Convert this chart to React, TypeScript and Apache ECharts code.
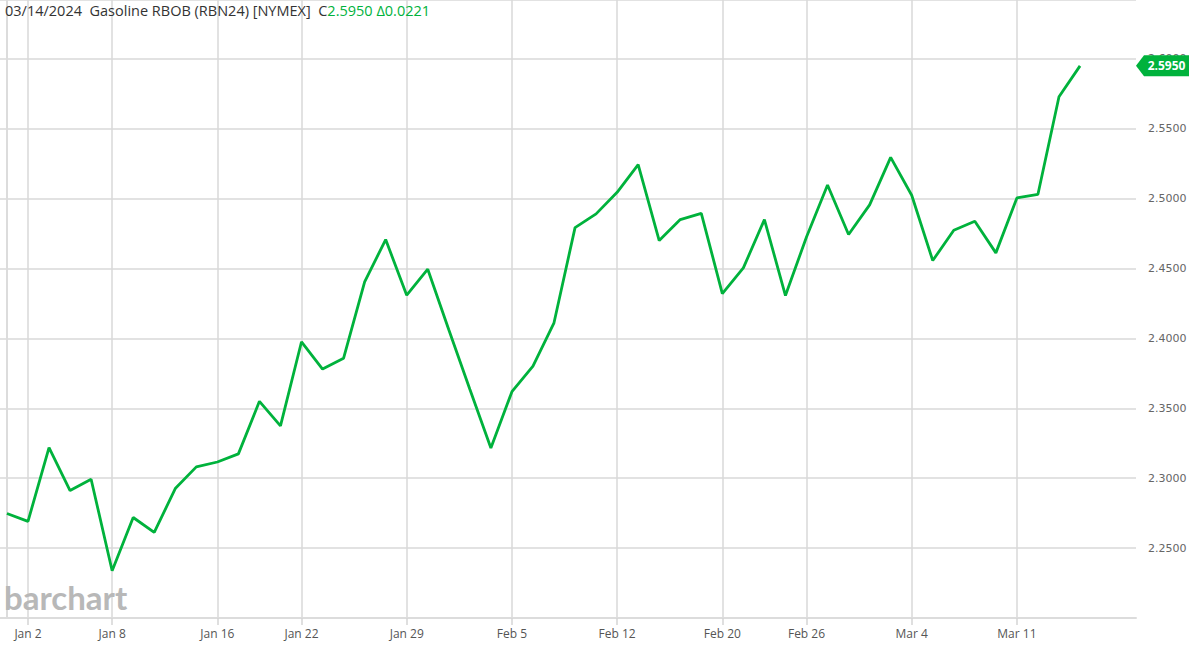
import { useEffect, useRef } from "react";
import * as echarts from "echarts";

const dates = [
  "Dec 29", "Jan 2", "Jan 3", "Jan 4", "Jan 5", "Jan 8", "Jan 9", "Jan 10", "Jan 11", "Jan 12",
  "Jan 16", "Jan 17", "Jan 18", "Jan 19", "Jan 22", "Jan 23", "Jan 24", "Jan 25", "Jan 26",
  "Jan 29", "Jan 30", "Jan 31", "Feb 1", "Feb 2", "Feb 5", "Feb 6", "Feb 7", "Feb 8", "Feb 9",
  "Feb 12", "Feb 13", "Feb 14", "Feb 15", "Feb 16", "Feb 20", "Feb 21", "Feb 22", "Feb 23",
  "Feb 26", "Feb 27", "Feb 28", "Feb 29", "Mar 1", "Mar 4", "Mar 5", "Mar 6", "Mar 7", "Mar 8",
  "Mar 11", "Mar 12", "Mar 13", "Mar 14",
];

const closes = [
  2.2748, 2.2691, 2.3219, 2.2912, 2.2993, 2.2338, 2.2719, 2.2612, 2.2926, 2.3081,
  2.3116, 2.3174, 2.355, 2.3374, 2.3976, 2.3781, 2.3859, 2.4405, 2.4707,
  2.4309, 2.4495, 2.4062, 2.3636, 2.3216, 2.3619, 2.3802, 2.4112, 2.4793, 2.4891,
  2.5045, 2.5243, 2.47, 2.485, 2.4895, 2.4321, 2.4505, 2.485, 2.4307,
  2.4726, 2.5098, 2.4743, 2.4955, 2.5295, 2.5024, 2.4557, 2.4774, 2.4838, 2.4612,
  2.5005, 2.5031, 2.5729, 2.595,
];

const tickLabels = [
  "Jan 2", "Jan 8", "Jan 16", "Jan 22", "Jan 29", "Feb 5",
  "Feb 12", "Feb 20", "Feb 26", "Mar 4", "Mar 11",
];

const titleDate = "03/14/2024";
const titleName = "Gasoline RBOB (RBN24) [NYMEX]";
const lastClose = 2.595;
const change = 0.0221;

const GREEN = "#00b23c";

export default function App() {
  const ref = useRef<HTMLDivElement>(null);

  useEffect(() => {
    document.body.style.margin = "0";
    const chart = echarts.init(ref.current!, null, { renderer: "svg" });
    const tickIdx = tickLabels.map((l) => dates.indexOf(l));
    const gridRight = 54;
    const width = 1190;

    chart.setOption({
      animation: false,
      grid: { left: 0, right: gridRight, top: 0, bottom: 27, containLabel: false },
      xAxis: {
        type: "value",
        min: -0.33,
        max: 53.66,
        axisLine: { show: true, onZero: false, lineStyle: { color: "#dcdcdc", width: 2 } },
        axisTick: {
          show: true,
          customValues: tickIdx,
          length: 7,
          lineStyle: { color: "#d4d4d4", width: 1.5 },
        },
        axisLabel: {
          customValues: tickIdx,
          formatter: (v: number) => dates[Math.round(v)] ?? "",
          color: "#555",
          fontSize: 12,
          fontFamily: "Open Sans",
          margin: 9,
        },
        splitLine: { show: true, lineStyle: { color: "#d9d9d9", width: 1.5 } },
      },
      yAxis: {
        type: "value",
        position: "right",
        min: 2.2,
        max: 2.6421,
        interval: 0.05,
        axisLine: { show: true, lineStyle: { color: "#dcdcdc", width: 2 } },
        axisTick: { show: false },
        axisLabel: {
          formatter: (v: number) => v.toFixed(4),
          color: "#666",
          fontSize: 11,
          fontFamily: "DejaVu Sans",
          margin: 12,
          showMinLabel: false,
          showMaxLabel: false,
        },
        splitLine: { show: true, lineStyle: { color: "#e2e2e2", width: 2 } },
      },
      series: [
        {
          type: "line",
          data: closes.map((v, i) => [i, v]),
          symbol: "none",
          lineStyle: { color: GREEN, width: 2.8 },
          z: 3,
        },
      ],
    });

    const yPix = chart.convertToPixel({ yAxisIndex: 0 }, lastClose) as number;
    const axisX = width - gridRight;
    const h = 21;
    chart.setOption({
      graphic: [
        {
          type: "text",
          left: 5,
          top: 3,
          z: 10,
          style: {
            text: `{a|${titleDate}  ${titleName}  C}{b|${lastClose.toFixed(4)} \u0394${change.toFixed(4)}}`,
            rich: {
              a: { fill: "#333", fontSize: 14.5, fontFamily: "Open Sans" },
              b: { fill: GREEN, fontSize: 14.5, fontFamily: "Open Sans" },
            },
          },
        },
        {
          type: "text",
          left: 4,
          top: 580,
          z: 10,
          style: {
            text: "barchart",
            fill: "#b8b8b8",
            fontSize: 33,
            fontWeight: "bold",
            fontFamily: "Lato",
          },
        },
        {
          type: "polygon",
          z: 20,
          shape: {
            points: [
              [axisX, yPix],
              [axisX + 8, yPix - h / 2],
              [width - 1, yPix - h / 2],
              [width - 1, yPix + h / 2],
              [axisX + 8, yPix + h / 2],
            ],
          },
          style: { fill: GREEN },
        },
        {
          type: "text",
          z: 21,
          x: (axisX + 8 + width - 1) / 2,
          y: yPix,
          style: {
            text: lastClose.toFixed(4),
            fill: "#fff",
            fontSize: 12,
            fontWeight: "bold",
            fontFamily: "Open Sans",
            align: "center",
            verticalAlign: "middle",
          },
        },
      ],
    });

    return () => chart.dispose();
  }, []);

  return <div ref={ref} style={{ width: 1190, height: 645, position: "absolute", left: 0, top: 0 }} />;
}
